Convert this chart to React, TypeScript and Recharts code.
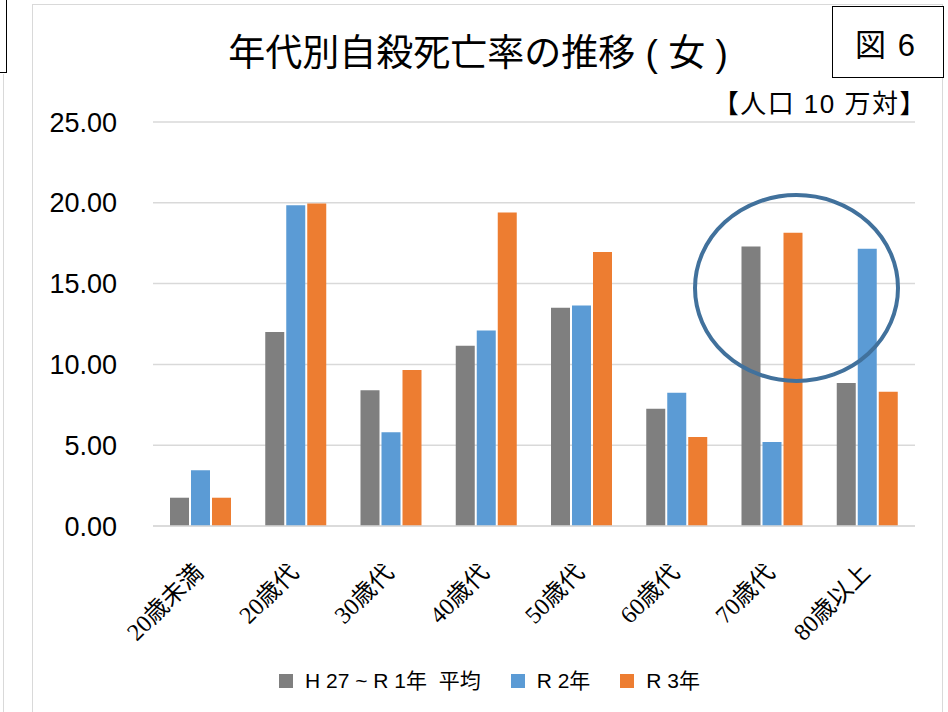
import React from "react";
import { BarChart, Bar, XAxis, YAxis, CartesianGrid, Legend } from "recharts";

const categories = ["20歳未満", "20歳代", "30歳代", "40歳代", "50歳代", "60歳代", "70歳代", "80歳以上"];
const avgH27R1 = [1.75, 12.0, 8.4, 11.15, 13.5, 7.25, 17.3, 8.85];
const r2 = [3.45, 19.85, 5.8, 12.1, 13.65, 8.25, 5.2, 17.15];
const r3 = [1.75, 19.95, 9.65, 19.4, 16.95, 5.5, 18.15, 8.3];
const yTicks = [0, 5, 10, 15, 20, 25];

const seriesNames = ["H 27 ~ R 1年  平均", "R 2年", "R 3年"];
const seriesColors = ["#7f7f7f", "#5b9bd5", "#ed7d31"];

const data = categories.map((name, i) => ({ name, avg: avgH27R1[i], r2: r2[i], r3: r3[i] }));

const sans = "'Liberation Sans', Arial, 'Noto Sans CJK JP', sans-serif";
const serif = "'Liberation Serif', 'Times New Roman', 'Noto Sans CJK JP', serif";

const XTick = ({ x, y, payload }: any) => (
  <g transform={`translate(${x + 4},${y + 40})`}>
    <text x={0} y={0} textAnchor="end" transform="rotate(-45)" fontSize={24} fontFamily={serif} fill="#000">
      {payload.value}
    </text>
  </g>
);

const LegendContent = () => (
  <div style={{ display: "flex", alignItems: "center", fontFamily: sans, fontSize: 21, lineHeight: "24px", color: "#000", whiteSpace: "pre" }}>
    {seriesNames.map((n, i) => (
      <span key={n} style={{ display: "flex", alignItems: "center", marginRight: 30 }}>
        <span style={{ width: 14, height: 14, background: seriesColors[i], marginRight: 12, display: "inline-block" }} />
        {n}
      </span>
    ))}
  </div>
);

export default function App() {
  return (
    <div style={{ position: "absolute", left: 0, top: 0, width: 948, height: 712, background: "#fff", overflow: "hidden" }}>
      {/* neighbouring frame edges */}
      <div style={{ position: "absolute", left: -2, top: -2, width: 7, height: 73, border: "1px solid #000" }} />
      <div style={{ position: "absolute", left: 3, top: 74, width: 1, height: 640, background: "#d9d9d9" }} />
      {/* chart frame */}
      <div style={{ position: "absolute", left: 32, top: 4, width: 909, height: 720, border: "1px solid #d9d9d9" }} />

      <div style={{ position: "absolute", left: 0, top: 0 }}>
        <BarChart
          width={948}
          height={712}
          data={data}
          margin={{ top: 122, right: 33, left: 73, bottom: 126 }}
          barCategoryGap={17}
          barGap={2}
        >
          <CartesianGrid vertical={false} stroke="#d9d9d9" strokeWidth={1.5} />
          <XAxis dataKey="name" interval={0} tickLine={false} axisLine={{ stroke: "#d9d9d9", strokeWidth: 1.5 }} height={60} tick={<XTick />} />
          <YAxis
            domain={[0, 25]}
            ticks={yTicks}
            width={80}
            tickLine={false}
            axisLine={false}
            tickSize={0}
            tickMargin={36}
            tickFormatter={(v: number) => v.toFixed(2)}
            tick={{ fontSize: 27, fontFamily: sans, fill: "#000" }}
          />
          <Legend
            layout="horizontal"
            verticalAlign="middle"
            align="center"
            content={<LegendContent />}
            wrapperStyle={{ left: 279, top: 669, width: 520 }}
          />
          <Bar dataKey="avg" name={seriesNames[0]} fill={seriesColors[0]} barSize={19} isAnimationActive={false} />
          <Bar dataKey="r2" name={seriesNames[1]} fill={seriesColors[1]} barSize={19} isAnimationActive={false} />
          <Bar dataKey="r3" name={seriesNames[2]} fill={seriesColors[2]} barSize={19} isAnimationActive={false} />
        </BarChart>
      </div>

      {/* highlight circle */}
      <svg width={948} height={712} style={{ position: "absolute", left: 0, top: 0, pointerEvents: "none" }}>
        <ellipse cx={796.5} cy={288} rx={101.5} ry={93} fill="none" stroke="#41719c" strokeWidth={4} />
      </svg>

      <div style={{ position: "absolute", left: 0, width: 956, top: 32, textAlign: "center", fontFamily: sans, fontSize: 37, lineHeight: "44px", color: "#000", whiteSpace: "pre" }}>
        年代別自殺死亡率の推移 ( 女 )
      </div>
      <div style={{ position: "absolute", right: 21, top: 89, fontFamily: sans, fontSize: 26, letterSpacing: 1.5, lineHeight: "30px", color: "#000" }}>
        【人口 10 万対】
      </div>
      <div
        style={{
          position: "absolute",
          left: 832,
          top: 6,
          width: 112,
          height: 72,
          border: "1px solid #000",
          background: "#fff",
          display: "flex",
          alignItems: "center",
          justifyContent: "center",
          fontFamily: sans,
          fontSize: 31,
          wordSpacing: 3,
          paddingRight: 6,
          boxSizing: "border-box",
          color: "#000",
        }}
      >
        図 6
      </div>
    </div>
  );
}
